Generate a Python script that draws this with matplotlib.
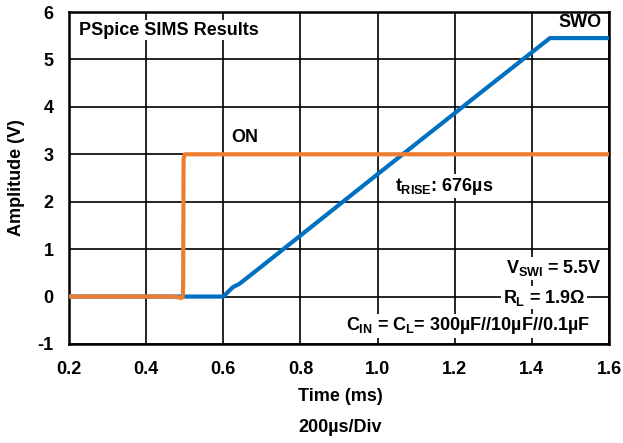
import matplotlib.pyplot as plt

plt.rcParams['font.family'] = ['Liberation Sans', 'DejaVu Sans']
plt.rcParams['font.weight'] = 'bold'
plt.rcParams['axes.unicode_minus'] = False
plt.rcParams['mathtext.fontset'] = 'custom'
plt.rcParams['mathtext.rm'] = 'Liberation Sans:bold'
plt.rcParams['mathtext.it'] = 'Liberation Sans:bold'
plt.rcParams['mathtext.bf'] = 'Liberation Sans:bold'

# --- datos ---
t_swo = [0.2, 0.60, 0.615, 0.625, 0.64, 0.65, 0.70, 1.00, 1.30, 1.447, 1.46, 1.6]
v_swo = [0.0, 0.0, 0.12, 0.2, 0.26, 0.32, 0.64, 2.58, 4.51, 5.45, 5.45, 5.45]

t_on = [0.2, 0.47, 0.485, 0.492, 0.495, 0.496, 0.497, 0.50, 1.6]
v_on = [0.0, 0.0, -0.02, -0.03, 0.0, 0.3, 2.9, 3.0, 3.0]

x_ticks = [0.2, 0.4, 0.6, 0.8, 1.0, 1.2, 1.4, 1.6]
x_labels = ['0.2', '0.4', '0.6', '0.8', '1.0', '1.2', '1.4', '1.6']
y_ticks = [-1, 0, 1, 2, 3, 4, 5, 6]

azul = '#0070C0'
naranja = '#ED7D31'
fs = 13

fig = plt.figure(figsize=(6.23, 4.43), dpi=100)
ax = fig.add_axes([0.1108, 0.2235, 0.8667, 0.7494])

ax.plot(t_swo, v_swo, color=azul, lw=3.0, zorder=3, solid_capstyle='butt')
ax.plot(t_on, v_on, color=naranja, lw=3.0, zorder=4, solid_capstyle='butt')

ax.set_xlim(0.2, 1.6)
ax.set_ylim(-1, 6)
ax.set_xticks(x_ticks)
ax.set_xticklabels(x_labels)
ax.set_yticks(y_ticks)
ax.grid(True, color='black', lw=1.2)
ax.set_axisbelow(True)
ax.tick_params(axis='x', length=0, labelsize=fs, pad=12)
ax.tick_params(axis='y', length=0, labelsize=fs, pad=11)
for s in ax.spines.values():
    s.set_linewidth(1.8)

ax.set_ylabel('Amplitude (V)', fontsize=fs, fontweight='bold', labelpad=9)
fig.text(0.546, 0.104, 'Time (ms)', ha='center', va='center', fontsize=fs, fontweight='bold')
fig.text(0.546, 0.034, '200µs/Div', ha='center', va='center', fontsize=fs, fontweight='bold')

caja = dict(facecolor='white', edgecolor='none', pad=1)
ax.text(0.226, 5.62, 'PSpice SIMS Results', ha='left', va='center', fontsize=fs,
        fontweight='bold', bbox=caja)
ax.text(1.582, 5.77, 'SWO', ha='right', va='center', fontsize=fs, fontweight='bold')
ax.text(0.656, 3.36, 'ON', ha='center', va='center', fontsize=fs, fontweight='bold')
ax.text(1.045, 2.33, r'$t_{RISE}$: 676µs', ha='left', va='center', fontsize=fs,
        fontweight='bold', bbox=caja)
ax.text(1.582, 0.6, r'$V_{SWI}$ = 5.5V', ha='right', va='center', fontsize=fs,
        fontweight='bold', bbox=caja)
ax.text(1.538, -0.02, r'$R_L$ = 1.9Ω', ha='right', va='center', fontsize=fs,
        fontweight='bold', bbox=caja)
ax.text(1.551, -0.62, r'$C_{IN}$ = $C_L$= 300µF//10µF//0.1µF', ha='right', va='center',
        fontsize=fs, fontweight='bold', bbox=caja)

fig.savefig('out.png', dpi=100)
